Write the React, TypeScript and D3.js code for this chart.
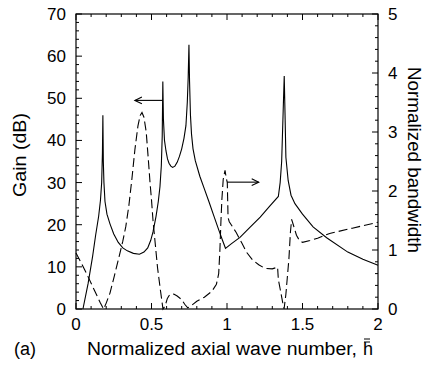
import React from "react";
import * as d3 from "d3";

// Gain (dB), left axis – solid curve
const gainX = [0.046,0.08,0.11,0.13,0.15,0.162,0.17,0.175,0.178,0.181,0.185,0.192,0.205,0.225,0.25,0.28,0.31,0.34,0.38,0.42,0.45,0.475,0.495,0.51,0.53,0.545,0.556,0.565,0.571,0.575,0.579,0.586,0.596,0.606,0.616,0.628,0.64,0.655,0.67,0.685,0.70,0.715,0.728,0.737,0.743,0.748,0.752,0.758,0.765,0.775,0.79,0.82,0.85,0.88,0.91,0.94,0.97,0.99,1.03,1.086,1.15,1.22,1.28,1.34,1.352,1.362,1.372,1.379,1.385,1.39,1.405,1.424,1.45,1.50,1.57,1.66,1.80,1.90,2.0];
const gainY = [0,6,12.5,17.5,22,25.8,30,37,46,35,30,25.5,22.5,20.2,17.8,15.8,14.5,13.8,13.2,13,13.5,14.5,16.3,18.3,22,25.5,29,34,41,54,45,40,37.5,35.6,34.6,33.9,33.6,33.9,34.8,36.2,38,40.5,43.5,49,55,62.7,54,46,41.5,38,35.2,31.5,28.5,25.5,22.4,19.3,16.3,14.4,15.5,17,19.3,21.8,24.3,26.7,30,35,47,55.3,45,36,30.5,27,25,22.5,19.5,16.9,13.5,11.8,10.4];

// Normalized bandwidth, right axis – dashed curve
const bwX = [0,0.035,0.07,0.105,0.14,0.16,0.183,0.2,0.225,0.25,0.28,0.31,0.33,0.35,0.37,0.39,0.41,0.425,0.437,0.45,0.465,0.48,0.49,0.5,0.51,0.525,0.54,0.56,0.576,0.59,0.605,0.62,0.635,0.65,0.67,0.70,0.72,0.74,0.76,0.80,0.85,0.90,0.93,0.945,0.953,0.96,0.966,0.975,0.987,0.995,1.002,1.007,1.015,1.03,1.06,1.10,1.13,1.17,1.21,1.25,1.30,1.335,1.34,1.355,1.368,1.378,1.39,1.40,1.41,1.42,1.428,1.44,1.46,1.48,1.50,1.55,1.60,1.68,1.83,2.0];
const bwY = [0.95,0.78,0.6,0.41,0.22,0.11,0,0.1,0.27,0.52,0.83,1.15,1.4,1.75,2.2,2.7,3.1,3.28,3.33,3.25,3.0,2.5,2.15,1.85,1.5,1.1,0.7,0.3,0,0.05,0.18,0.24,0.26,0.25,0.22,0.16,0.08,0.02,0.05,0.13,0.2,0.3,0.42,0.6,1.0,1.5,1.85,2.2,2.35,2.22,2.14,1.55,1.48,1.42,1.3,1.11,0.96,0.83,0.75,0.69,0.68,0.71,0.5,0.3,0.12,0,0.25,0.55,0.85,1.3,1.52,1.42,1.25,1.16,1.13,1.16,1.2,1.28,1.37,1.47];

const xMajor = [0, 0.5, 1, 1.5, 2];
const xTickLabels = ["0", "0.5", "1", "1.5", "2"];
const gainMajor = [0, 10, 20, 30, 40, 50, 60, 70];
const bwMajor = [0, 1, 2, 3, 4, 5];

export default function App() {
  const W = 427, H = 366;
  const L = 76, R = 378, T = 14, B = 309;
  const x = d3.scaleLinear().domain([0, 2]).range([L, R]);
  const yL = d3.scaleLinear().domain([0, 70]).range([B, T]);
  const yR = d3.scaleLinear().domain([0, 5]).range([B, T]);

  const gainPts: [number, number][] = gainX.map((v, i) => [v, gainY[i]]);
  const bwPts: [number, number][] = bwX.map((v, i) => [v, bwY[i]]);
  const gainLine = d3.line<[number, number]>().x(d => x(d[0])).y(d => yL(d[1])).curve(d3.curveLinear);
  const bwLine = d3.line<[number, number]>().x(d => x(d[0])).y(d => yR(d[1])).curve(d3.curveLinear);

  const xMinor = d3.range(0, 2.0001, 0.1);
  const gMinor = d3.range(0, 70.001, 2);
  const rMinor = d3.range(0, 5.0001, 0.2);
  const isMaj = (v: number, step: number) => Math.abs(v / step - Math.round(v / step)) < 1e-6;

  const font = "'Liberation Sans', Arial, Helvetica, sans-serif";
  const maj = 6, mn = 3;

  // annotation arrows (data coords)
  const a1 = { x0: 0.575, x1: 0.39, y: yL(49.5) };
  const a2 = { x0: 1.0, x1: 1.21, y: yR(2.15) };

  return (
    <svg width={W} height={H} style={{ position: "absolute", left: 0, top: 0, background: "#fff" }} fontFamily={font}>
      <rect x={0} y={0} width={W} height={H} fill="#fff" />
      {/* ticks */}
      <g stroke="#000" strokeWidth={1}>
        {xMinor.map((v, i) => {
          const len = isMaj(v, 0.5) ? maj : mn;
          return (
            <g key={"x" + i}>
              <line x1={x(v)} x2={x(v)} y1={B} y2={B - len} />
              <line x1={x(v)} x2={x(v)} y1={T} y2={T + len} />
            </g>
          );
        })}
        {gMinor.map((v, i) => (
          <line key={"g" + i} x1={L} x2={L + (isMaj(v, 10) ? maj : mn)} y1={yL(v)} y2={yL(v)} />
        ))}
        {rMinor.map((v, i) => (
          <line key={"r" + i} x1={R} x2={R - (isMaj(v, 1) ? maj : mn)} y1={yR(v)} y2={yR(v)} />
        ))}
      </g>
      <rect x={L} y={T} width={R - L} height={B - T} fill="none" stroke="#000" strokeWidth={1.2} />

      {/* curves */}
      <path d={gainLine(gainPts) || ""} fill="none" stroke="#000" strokeWidth={1.1} />
      <path d={bwLine(bwPts) || ""} fill="none" stroke="#000" strokeWidth={1.1} strokeDasharray="9,4" />

      {/* arrows */}
      <g stroke="#000" strokeWidth={1.1} fill="none">
        <line x1={x(a1.x0)} x2={x(a1.x1)} y1={a1.y} y2={a1.y} />
        <polyline points={`${x(a1.x1) + 7},${a1.y - 3.3} ${x(a1.x1)},${a1.y} ${x(a1.x1) + 7},${a1.y + 3.3}`} />
        <line x1={x(a2.x0)} x2={x(a2.x1)} y1={a2.y} y2={a2.y} />
        <polyline points={`${x(a2.x1) - 7},${a2.y - 3.3} ${x(a2.x1)},${a2.y} ${x(a2.x1) - 7},${a2.y + 3.3}`} />
      </g>

      {/* tick labels */}
      <g fontSize={17} fill="#000">
        {xMajor.map((v, i) => (
          <text key={"xl" + i} x={x(v)} y={330} textAnchor="middle">{xTickLabels[i]}</text>
        ))}
        {gainMajor.map((v, i) => (
          <text key={"gl" + i} x={66} y={yL(v) + 6} textAnchor="end">{v}</text>
        ))}
        {bwMajor.map((v, i) => (
          <text key={"bl" + i} x={388} y={yR(v) + 6} textAnchor="start">{v}</text>
        ))}
      </g>

      {/* axis titles */}
      <text x={0} y={0} fontSize={18} textAnchor="middle" transform={`translate(26,155) rotate(-90)`} textLength={84} lengthAdjust="spacingAndGlyphs">Gain (dB)</text>
      <text x={0} y={0} fontSize={18} textAnchor="middle" transform={`translate(408,160) rotate(90)`} textLength={186} lengthAdjust="spacingAndGlyphs">Normalized bandwidth</text>
      <text x={14} y={355} fontSize={18}>(a)</text>
      <text x={87} y={355} fontSize={18} textLength={270} lengthAdjust="spacingAndGlyphs">Normalized axial wave number,</text>
      <text x={363} y={355} fontSize={18}>h</text>
      <g stroke="#000" strokeWidth={1}>
        <line x1={364} x2={370} y1={339} y2={339} />
        <line x1={364} x2={370} y1={342} y2={342} />
      </g>
    </svg>
  );
}
